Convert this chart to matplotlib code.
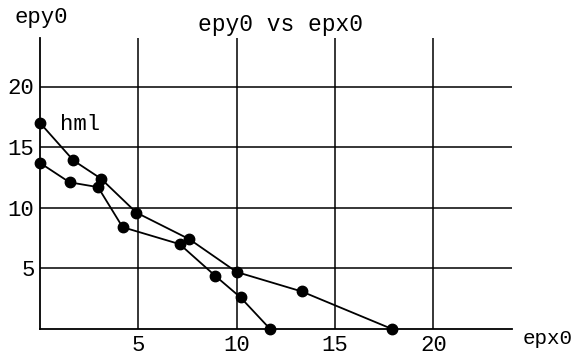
import matplotlib
matplotlib.use("Agg")
import matplotlib.pyplot as plt

# series (epx0, epy0)
upper_x = [0.0, 1.7, 3.1, 4.9, 7.6, 10.0, 13.3, 17.9]
upper_y = [17.0, 13.9, 12.4, 9.6, 7.4, 4.7, 3.1, 0.0]
lower_x = [0.0, 1.5, 2.95, 4.2, 7.1, 8.9, 10.2, 11.7]
lower_y = [13.7, 12.1, 11.7, 8.4, 7.0, 4.4, 2.6, 0.0]

xticks = [5, 10, 15, 20]
yticks = [5, 10, 15, 20]

W, H = 577, 357
font = "Liberation Mono"
plt.rcParams["font.family"] = [font, "DejaVu Sans"]

fig = plt.figure(figsize=(W / 100, H / 100), dpi=100)
fig.patch.set_facecolor("white")
# axes box in pixels: left 40, right 512, top 38, bottom 329
ax = fig.add_axes([40 / W, (H - 329) / H, (512 - 40) / W, (329 - 38) / H])
ax.set_xlim(0, 24.0)
ax.set_ylim(0, 24.0)

ax.plot(upper_x, upper_y, color="black", lw=1.3, marker="o", ms=7.5, clip_on=False, zorder=3)
ax.plot(lower_x, lower_y, color="black", lw=1.3, marker="o", ms=7.5, clip_on=False, zorder=3)

ax.set_xticks(xticks)
ax.set_yticks(yticks)
ax.grid(True, color="black", lw=1.1)
ax.tick_params(length=0, labelsize=16, pad=4)
for s in ["top", "right"]:
    ax.spines[s].set_visible(False)
for s in ["left", "bottom"]:
    ax.spines[s].set_linewidth(1.3)

fig.text(14 / W, 1 - 18 / H, "epy0", fontsize=16, ha="left", va="center")
fig.text(280 / W, 1 - 25 / H, "epy0 vs epx0", fontsize=16.5, ha="center", va="center")
fig.text(60 / W, 1 - 124 / H, "hml", fontsize=16, ha="left", va="center")
fig.text(523 / W, 1 - 339 / H, "epx0", fontsize=15, ha="left", va="center")

fig.savefig("out.png", dpi=100)
